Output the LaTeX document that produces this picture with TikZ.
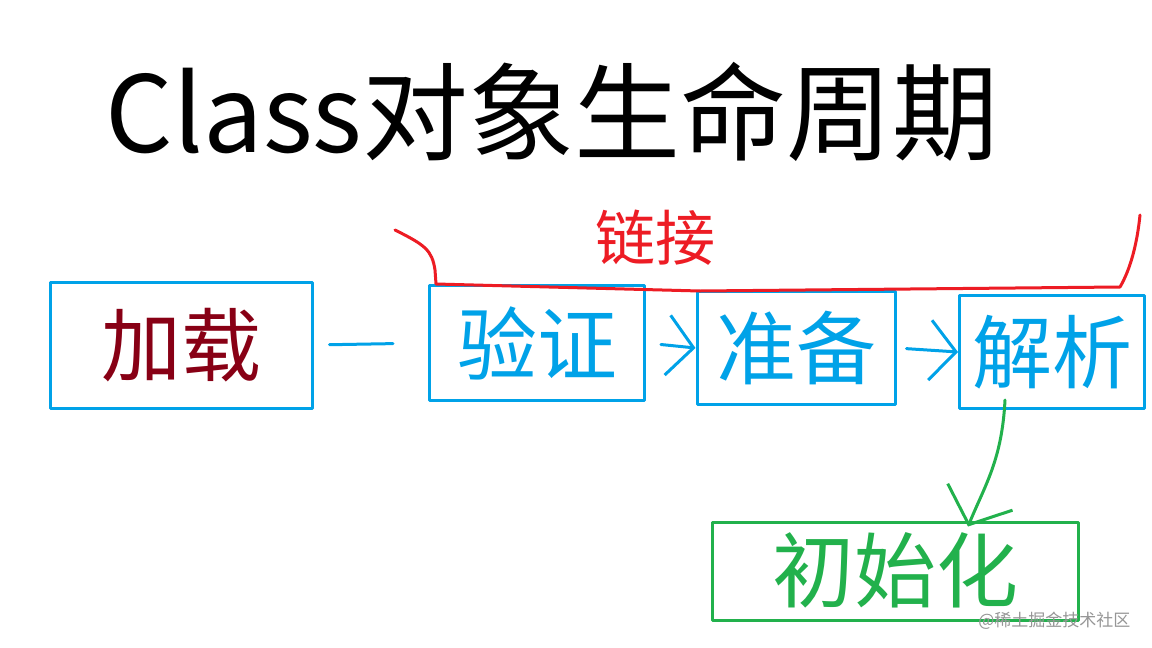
\documentclass[tikz,border=0pt]{standalone}
\usepackage{fontspec}
\setmainfont{Noto Sans CJK SC}
\usetikzlibrary{arrows.meta}
\definecolor{pblue}{RGB}{0,162,232}
\definecolor{pdark}{RGB}{136,0,21}
\definecolor{pred}{RGB}{237,28,36}
\definecolor{pgreen}{RGB}{34,177,76}
\definecolor{wmark}{RGB}{150,150,150}
\tikzset{
  stagebox/.style={draw=pblue, line width=3pt, line join=round, inner sep=0pt, font=\fontsize{80}{80}\selectfont, text=pblue},
  flow/.style={draw=pblue, line width=3pt, line cap=round, -{Straight Barb[length=26pt,width=60pt]}},
}
\begin{document}
\begin{tikzpicture}[x=1pt,y=-1pt]
\useasboundingbox[fill=white] (0,0) rectangle (1152,648);
% title
\node[font=\fontsize{106}{106}\selectfont, text=black] (title) at (552,112) {Class对象生命周期};
% stage boxes
\node[stagebox, text=pdark, minimum width=262pt, minimum height=126pt] (load) at (181,345) {加载};
\node[stagebox, minimum width=215pt, minimum height=115pt] (verify) at (537,343) {验证};
\node[stagebox, minimum width=198pt, minimum height=113pt] (prepare) at (796,348) {准备};
\node[stagebox, minimum width=185pt, minimum height=113pt] (resolve) at (1052,352) {解析};
\node[stagebox, draw=pgreen, text=pgreen, font=\fontsize{82}{82}\selectfont, minimum width=366pt, minimum height=98pt] (init) at (895,571) {\raisebox{7pt}{初始化}};
% connectors
\draw[draw=pblue, line width=3pt, line cap=round, shorten <=16pt, shorten >=35pt] (load.east) -- (verify.west);
\draw[flow, shorten <=15pt] (verify.east) -- (prepare.west);
\draw[flow, shorten <=10pt] (prepare.east) -- (resolve.west);
\draw[draw=pgreen, line width=3pt, line cap=round, -{Straight Barb[length=30pt,width=70pt]}]
  ([xshift=-47pt,yshift=10pt]resolve.south) .. controls (1002,460) and (985,485) .. ([xshift=73pt,yshift=-6pt]init.north);
% link bracket
\draw[pred, line width=3pt, line cap=round, line join=round]
  (395,230) .. controls (425,245) and (432,250) .. (435,270)
  -- (436,284) -- (700,291) -- (1120,287)
  .. controls (1130,270) and (1137,245) .. (1140,215);
\node[text=pred, font=\fontsize{60}{60}\selectfont] (link) at (655,238) {链接};
% watermark
\node[text=wmark, font=\fontsize{17}{17}\selectfont, anchor=east] (wm) at (1134,621) {@稀土掘金技术社区};
\end{tikzpicture}
\end{document}
